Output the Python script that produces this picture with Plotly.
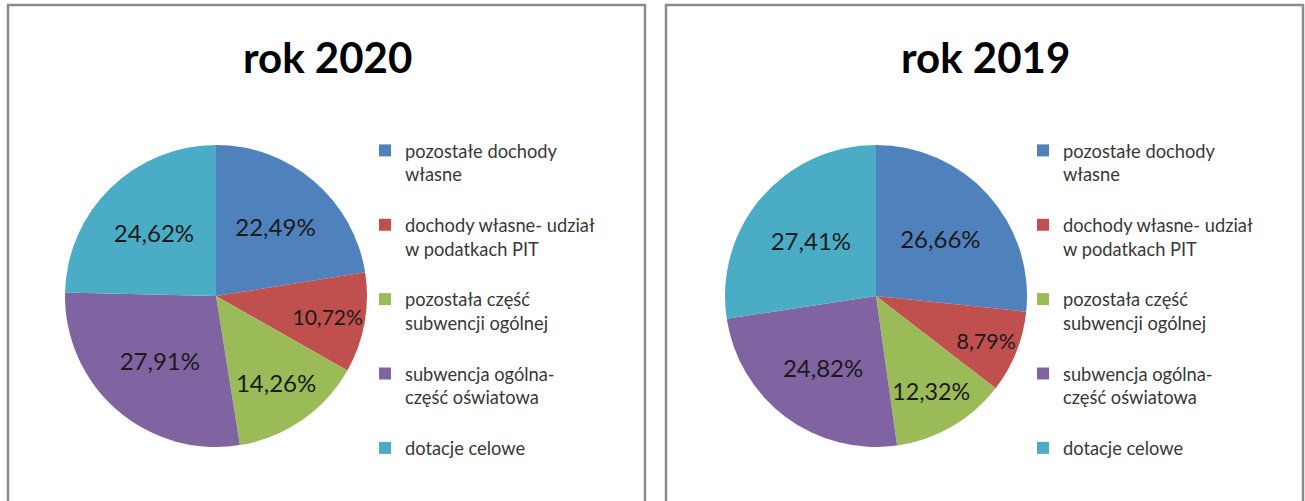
import plotly.graph_objects as go

W, H = 1305, 501

categories = [
    "pozostałe dochody<br>własne",
    "dochody własne- udział<br>w podatkach PIT",
    "pozostała część<br>subwencji ogólnej",
    "subwencja ogólna-<br>część oświatowa",
    "dotacje celowe",
]
values_2020 = [22.49, 10.72, 14.26, 27.91, 24.62]
values_2019 = [26.66, 8.79, 12.32, 24.82, 27.41]
titles = ["rok 2020", "rok 2019"]
colors = ["#4F81BD", "#C0504D", "#9BBB59", "#8064A2", "#4BACC6"]

# legend labels with extra spacing line (except the last)
legend_labels = [c + "<br>&nbsp;" if i < len(categories) - 1 else c
                 for i, c in enumerate(categories)]
# second chart gets its own legend entries (distinct label keys)
legend_labels_2 = [c + "\u200b" for c in legend_labels]

def px_x(x):
    return x / W

def px_y(y):
    return 1 - y / H

fig = go.Figure()

pies = [
    (legend_labels, values_2020, (65, 367), (145, 447), "legend"),
    (legend_labels_2, values_2019, (725, 1027), (145, 447), "legend2"),
]
for labs, vals, (x0, x1), (y0, y1), lg in pies:
    fig.add_trace(go.Pie(
        labels=labs,
        values=vals,
        sort=False,
        direction="clockwise",
        rotation=0,
        marker=dict(colors=colors, line=dict(width=0)),
        texttemplate="%{value:.2f}%",
        textposition="inside",
        insidetextorientation="horizontal",
        textfont=dict(family="Lato", size=24, color="#1a1a1a"),
        domain=dict(x=[px_x(x0), px_x(x1)], y=[px_y(y1), px_y(y0)]),
        legend=lg,
        hoverinfo="label+percent",
    ))

legend_common = dict(
    font=dict(family="Lato", size=18.3, color="#383838"),
    bgcolor="rgba(0,0,0,0)",
    borderwidth=0,
    valign="top",
    itemwidth=30,
    xanchor="left",
    yanchor="top",
    traceorder="normal",
)

fig.update_layout(
    width=W, height=H,
    margin=dict(l=0, r=0, t=0, b=0),
    paper_bgcolor="white",
    plot_bgcolor="white",
    separators=", ",
    showlegend=True,
    legend=dict(x=px_x(365), y=px_y(132), **legend_common),
    legend2=dict(x=px_x(1023), y=px_y(132), **legend_common),
)

# panel frames
for x0, x1 in [(8, 645), (666, 1303)]:
    fig.add_shape(type="rect", xref="paper", yref="paper",
                  x0=px_x(x0), x1=px_x(x1), y0=-0.05, y1=px_y(5),
                  line=dict(color="#8c8c8c", width=2.5), fillcolor="rgba(0,0,0,0)")

# titles
for t, cx in zip(titles, [327, 985]):
    fig.add_annotation(text="<b>" + t + "</b>", xref="paper", yref="paper",
                       x=px_x(cx), y=px_y(57), xanchor="center", yanchor="middle",
                       showarrow=False,
                       font=dict(family="Lato", size=42, color="#000000"))

fig.write_html("out.html")
